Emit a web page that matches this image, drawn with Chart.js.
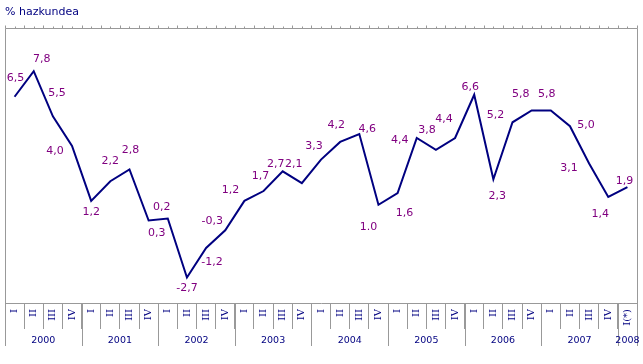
<!DOCTYPE html>
<html>
<head>
<meta charset="utf-8">
<script src="https://cdn.jsdelivr.net/npm/chart.js@4"></script>
<style>
  html, body { margin: 0; padding: 0; background: #fff; }
  #wrap { width: 643px; height: 364px; }
</style>
</head>
<body>
<div id="wrap"><canvas id="grafikoa"></canvas></div>
<script>
// Datuak
const urteak = ["2000", "2001", "2002", "2003", "2004", "2005", "2006", "2007", "2008"];
const hiruhilekoak = [
  "I", "II", "III", "IV", "I", "II", "III", "IV", "I", "II", "III", "IV",
  "I", "II", "III", "IV", "I", "II", "III", "IV", "I", "II", "III", "IV",
  "I", "II", "III", "IV", "I", "II", "III", "IV", "I(*)"
];
const hazkundea = [
  6.5, 7.8, 5.5, 4.0, 1.2, 2.2, 2.8, 0.2, 0.3, -2.7, -1.2, -0.3,
  1.2, 1.7, 2.7, 2.1, 3.3, 4.2, 4.6, 1.0, 1.6, 4.4, 3.8, 4.4,
  6.6, 2.3, 5.2, 5.8, 5.8, 5.0, 3.1, 1.4, 1.9
];
const etiketak = [
  "6,5", "7,8", "5,5", "4,0", "1,2", "2,2", "2,8", "0,2", "0,3", "-2,7", "-1,2", "-0,3",
  "1,2", "1,7", "2,7", "2,1", "3,3", "4,2", "4,6", "1.0", "1,6", "4,4", "3,8", "4,4",
  "6,6", "2,3", "5,2", "5,8", "5,8", "5,0", "3,1", "1,4", "1,9"
];

// etiketen lekua puntuarekiko (px)
const etiketaOffset = [
  [1, -19], [8, -12], [4, -23], [-17, 5], [0, 11], [0, -20], [1, -19], [13, -13],
  [-11, 15], [0, 11], [6, 14], [-13, -9], [-14, -11], [-3, -15], [-7, -7], [-8, -19],
  [-7, -13], [-4, -17], [8, -5], [-10, 22], [7, 20], [-17, 2], [-9, -20], [-11, -19],
  [-4, -8], [4, 17], [-17, -7], [-11, -16], [-4, -16], [16, -1], [-20, 5], [-8, 17],
  [-3, -6]
];

const GRIS = "#999999";
const URDINA = "#000080";
const MOREA = "#800080";

// Markoa, goiko marrak, urteak eta balioak
const markoa = {
  id: "markoa",
  afterDatasetsDraw(chart) {
    const ctx = chart.ctx;
    const meta = chart.getDatasetMeta(0);
    ctx.save();
    ctx.fillStyle = MOREA;
    ctx.font = "11px 'DejaVu Sans'";
    ctx.textAlign = "center";
    ctx.textBaseline = "middle";
    meta.data.forEach((p, i) => {
      ctx.fillText(etiketak[i], p.x + etiketaOffset[i][0], p.y + etiketaOffset[i][1]);
    });
    ctx.restore();
  },
  afterDraw(chart) {
    const ctx = chart.ctx;
    const a = chart.chartArea;
    const x = chart.scales.x;
    const w = x.getPixelForValue(1) - x.getPixelForValue(0);
    const px = v => Math.round(v) + 0.5;
    const behea = a.bottom + 43;
    ctx.save();
    ctx.strokeStyle = GRIS;
    ctx.lineWidth = 1;
    ctx.beginPath();
    ctx.moveTo(px(a.left), behea);
    ctx.lineTo(px(a.left), px(a.top));
    ctx.lineTo(px(a.right), px(a.top));
    ctx.lineTo(px(a.right), behea);
    // goiko marra txikiak
    for (let i = 0; i <= hiruhilekoak.length; i++) {
      const b = px(x.getPixelForValue(i) - w / 2);
      ctx.moveTo(b, px(a.top));
      ctx.lineTo(b, px(a.top) - 3);
      if (i < hiruhilekoak.length) {
        const c = px(x.getPixelForValue(i));
        ctx.moveTo(c, px(a.top));
        ctx.lineTo(c, px(a.top) - 2);
      }
    }
    // urteen banaketak
    urteak.forEach((u, k) => {
      const b = px(x.getPixelForValue(k * 4) - w / 2);
      ctx.moveTo(b, a.bottom);
      ctx.lineTo(b, behea);
    });
    ctx.stroke();

    ctx.fillStyle = URDINA;
    ctx.font = "9.5px 'DejaVu Sans'";
    ctx.textAlign = "center";
    ctx.textBaseline = "middle";
    urteak.forEach((u, k) => {
      const hasi = k * 4;
      const bukatu = Math.min(hasi + 3, hiruhilekoak.length - 1);
      const erdia = (x.getPixelForValue(hasi) + x.getPixelForValue(bukatu)) / 2;
      ctx.fillText(u, erdia, a.bottom + 38);
    });
    ctx.restore();
  }
};

new Chart(document.getElementById("grafikoa"), {
  type: "line",
  data: {
    labels: hiruhilekoak,
    datasets: [{
      data: hazkundea,
      borderColor: URDINA,
      borderWidth: 2,
      pointRadius: 0,
      tension: 0,
      fill: false
    }]
  },
  options: {
    responsive: true,
    maintainAspectRatio: false,
    animation: false,
    layout: { padding: { left: 5, right: 6, top: 0, bottom: 0 } },
    plugins: {
      legend: { display: false },
      tooltip: { enabled: false },
      title: {
        display: true,
        text: "% hazkundea",
        align: "start",
        color: URDINA,
        font: { family: "DejaVu Sans", size: 11, weight: "normal" },
        padding: { top: 6, bottom: 8.8 }
      }
    },
    scales: {
      x: {
        offset: true,
        grid: { offset: true, drawOnChartArea: false, tickLength: 26, color: GRIS },
        border: { color: GRIS },
        ticks: {
          autoSkip: false,
          maxRotation: 90,
          minRotation: 90,
          padding: -20,
          color: URDINA,
          font: { family: "DejaVu Serif", size: 10 }
        },
        afterFit: s => { s.height = 61; }
      },
      y: { display: false, min: -4, max: 10 }
    }
  },
  plugins: [markoa]
});
</script>
</body>
</html>
